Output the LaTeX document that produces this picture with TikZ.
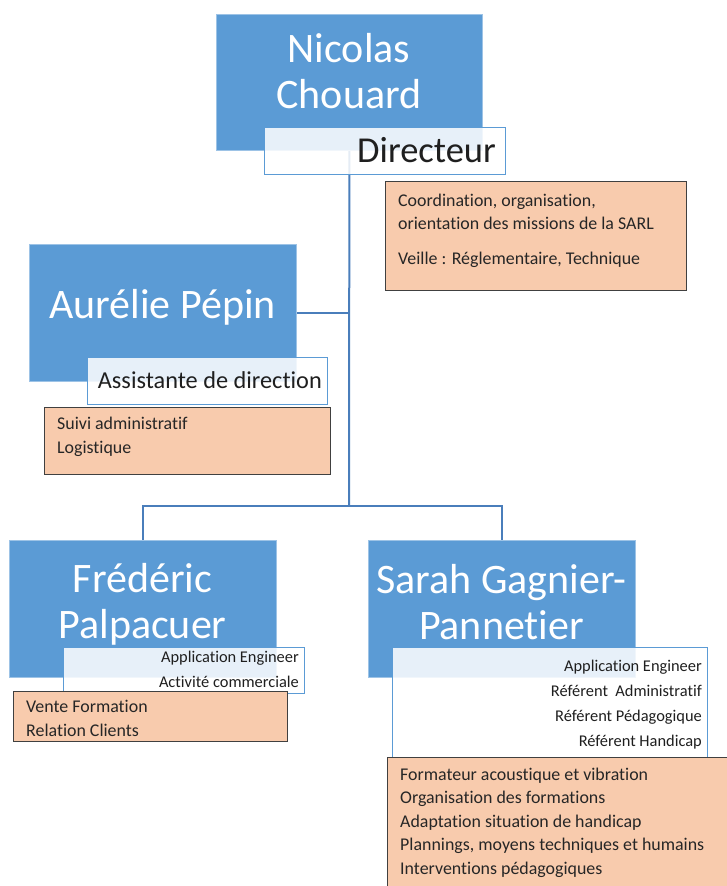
\documentclass[tikz,border=0pt]{standalone}
\usepackage{fontspec}
\setmainfont{Carlito}[Ligatures=NoCommon]
\usetikzlibrary{backgrounds}
\definecolor{nameblue}{HTML}{5B9BD5}
\definecolor{namerim}{HTML}{9DC3E6}
\definecolor{rolerim}{HTML}{5B9BD5}
\definecolor{taskfill}{HTML}{F8CBAD}
\definecolor{taskrim}{HTML}{404040}
\definecolor{linkblue}{HTML}{4A7EBB}
\begin{document}
\begin{tikzpicture}[x=1pt,y=-1pt,
  namebox/.style={draw=namerim,fill=nameblue,line width=0.8pt,anchor=north west},
  rolebox/.style={draw=rolerim,fill=white,fill opacity=0.86,line width=1.1pt,anchor=north west},
  taskbox/.style={draw=taskrim,fill=taskfill,line width=1.2pt,anchor=north west},
  nametext/.style={text=white,align=center,font=\fontsize{42}{46}\selectfont},
  roletext/.style={text=black!88,align=right,anchor=base east,font=\fontsize{16.4}{25}\selectfont},
  tasktext/.style={text=black!85,align=left,anchor=base west,font=\fontsize{17.9}{23.5}\selectfont},
  conn/.style={draw=linkblue,line width=2pt}]
\tikzstyle{every node}+=[inner sep=0pt]
\useasboundingbox (0,0) rectangle (727,886);
\clip (0,0) rectangle (727,886);
\coordinate (split) at (349,506);
\node[namebox,minimum width=266pt,minimum height=136pt] (nicolas) at (216,14) {};
\node[namebox,minimum width=267pt,minimum height=137pt] (aurelie) at (29,244) {};
\node[namebox,minimum width=267pt,minimum height=137pt] (frederic) at (9,540) {};
\node[namebox,minimum width=267pt,minimum height=137pt] (sarah) at (368,540) {};
\begin{pgfonlayer}{background}
\draw[conn] (nicolas.south) -- (split);
\draw[conn] (aurelie.east) -- (aurelie.east -| split);
\draw[conn] (frederic.north) |- (split) -| (sarah.north);
\end{pgfonlayer}
\node[rolebox,minimum width=241pt,minimum height=47pt] (directeur) at (264,127) {};
\node[rolebox,minimum width=240pt,minimum height=47pt] (assistante) at (87,357) {};
\node[rolebox,minimum width=241pt,minimum height=46pt] (fredrole) at (63,647) {};
\node[rolebox,minimum width=315pt,minimum height=115pt] (sarahrole) at (392,647) {};
\node[taskbox,minimum width=301pt,minimum height=109pt] (veille) at (385,181) {};
\node[taskbox,minimum width=286pt,minimum height=67pt] (suivi) at (44,407) {};
\node[taskbox,minimum width=274pt,minimum height=50pt] (vente) at (13,691) {};
\node[taskbox,minimum width=360pt,minimum height=150pt] (formateur) at (387,757) {};
\node[nametext] (nicolas-txt) at (349,71) {Nicolas\\Chouard};
\node[nametext] (aurelie-txt) at (162.5,307) {Aurélie Pépin};
\node[nametext] (frederic-txt) at (142.5,604) {Frédéric\\Palpacuer};
\node[nametext] (sarah-txt) at (501.5,602) {Sarah Gagnier-\\Pannetier};
\node[roletext,font=\fontsize{36.5}{40}\selectfont] (directeur-txt) at (496,162) {Directeur};
\node[roletext,font=\fontsize{24.3}{28}\selectfont] (assistante-txt) at (322,388) {Assistante de direction};
\node[roletext] (fredrole-txt) at (299,687) {Application Engineer\\Activité commerciale};
\node[roletext] (sarahrole-txt) at (702,746) {Application Engineer\\Référent\ \ Administratif\\Référent Pédagogique\\Référent Handicap};
\node[tasktext] (veille-txt) at (398,264) {Coordination, organisation,\\orientation des missions de la SARL\\[11pt]Veille : Réglementaire, Technique};
\node[tasktext] (suivi-txt) at (57,453) {Suivi administratif\\Logistique};
\node[tasktext] (vente-txt) at (26,736) {Vente Formation\\Relation Clients};
\node[tasktext] (formateur-txt) at (400,874) {Formateur acoustique et vibration\\Organisation des formations\\Adaptation situation de handicap\\Plannings, moyens techniques et humains\\Interventions pédagogiques};
\end{tikzpicture}
\end{document}
